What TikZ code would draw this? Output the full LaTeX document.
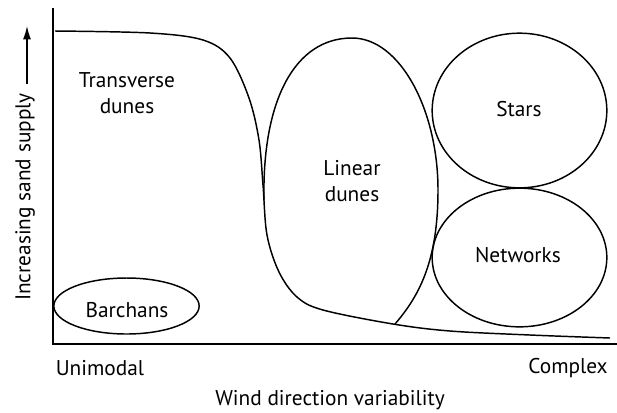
\documentclass[tikz,border=0pt]{standalone}
\usepackage{fontspec}
\setmainfont{PT Sans}
\usetikzlibrary{shapes.geometric,arrows.meta}

\begin{document}
\begin{tikzpicture}[x=0.75pt,y=-0.75pt,line width=1.1pt,
  every node/.style={font=\fontsize{16}{19}\selectfont},
  region/.style={draw,ellipse,inner sep=0pt}]
\useasboundingbox (0,0) rectangle (617,412);
% axes
\coordinate (O) at (53,344);
\draw (53,8) -- (O) -- (617,344);
% boundary between transverse dunes and the rest
\draw plot[smooth,tension=0.55] coordinates {(55,31) (150,33) (203,40) (230,58) (249,98) (259,140)
  (263,185) (267,235) (279,272) (297,297) (323,310) (393,324) (450,331) (530,335) (610,338)};
% linear dunes
\draw (264,200) .. controls (262,100) and (295,38) .. (352,38)
  .. controls (400,38) and (438,110) .. (438,190)
  .. controls (438,260) and (420,295) .. (395,324);
% ellipses
\node[region,minimum width=131pt,minimum height=116pt] (stars) at (519.5,110.5) {};
\node[region,minimum width=131pt,minimum height=104pt] (networks) at (519.5,257.5) {};
\node[region,minimum width=109pt,minimum height=42pt] (barchans) at (126.5,306) {};
% labels
\node (transverse) at (127,93) [align=center] {Transverse\\dunes};
\node (linear) at (352,181) [align=center] {Linear\\dunes};
\node (starslab) at (519,109) {Stars};
\node (networkslab) at (518,255) {Networks};
\node (barchanslab) at (127,310) {Barchans};
\node (unimodal) at (100,368) {Unimodal};
\node (complex) at (568,368) {Complex};
\node (xlabel) at (330,400) {Wind direction variability};
\node[rotate=90] (ylabel) at (25,197) {Increasing sand supply};
\coordinate (arrowfoot) at (27,84);
\coordinate (arrowtop) at (27,26);
\draw[-{Latex[length=10pt,width=6pt]}] (arrowfoot) -- (arrowtop);
\end{tikzpicture}
\end{document}
